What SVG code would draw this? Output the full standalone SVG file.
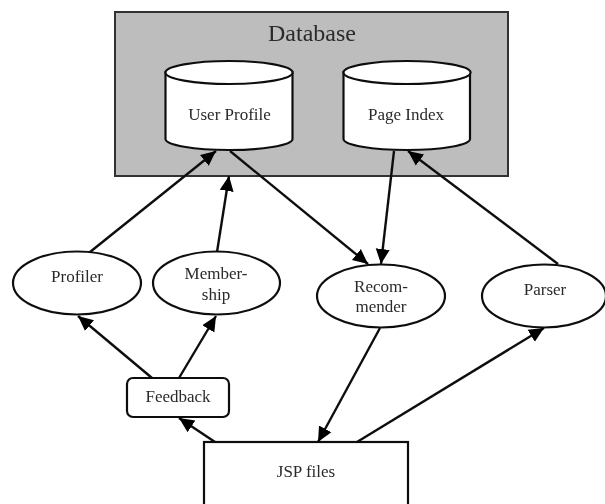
<svg xmlns="http://www.w3.org/2000/svg" width="605" height="504" viewBox="0 0 605 504">
<style>
.s{fill:#fff;stroke:#111;stroke-width:2.200}
.t{font-family:"Liberation Serif",serif;font-size:17px;fill:#2a2a2a;text-anchor:middle}
.c{fill:none;stroke:#111;stroke-width:2.400;marker-end:url(#a)}
</style>
<defs>
<marker id="a" markerUnits="userSpaceOnUse" markerWidth="18" markerHeight="16" refX="15" refY="8" orient="auto"><path d="M0 1L15 8L0 15Z" fill="#000"/></marker>
<filter id="b" x="-2%" y="-2%" width="104%" height="104%"><feGaussianBlur stdDeviation="0.5"/></filter>
</defs>
<rect width="605" height="504" fill="#fff"/>
<g filter="url(#b)">
<g id="database"><rect x="115" y="12" width="393" height="164" fill="#bdbdbd" stroke="#333" stroke-width="2"/><text x="312" y="41" class="t" style="font-size:24px">Database</text></g>
<g id="user-profile"><path class="s" d="M165.500 72V139C165.500 145 194 150 229 150S292.500 145 292.500 139V72Z"/><ellipse class="s" cx="229" cy="72.500" rx="63.500" ry="11.500"/><text x="229.500" y="120" class="t">User Profile</text></g>
<g id="page-index"><path class="s" d="M343.500 72V139C343.500 145 372 150 407 150S470 145 470 139V72Z"/><ellipse class="s" cx="407" cy="72.500" rx="63.500" ry="11.500"/><text x="406" y="120" class="t">Page Index</text></g>
<g id="profiler"><ellipse class="s" cx="77" cy="283" rx="64" ry="31.500"/><text x="77" y="282" class="t">Profiler</text></g>
<g id="membership"><ellipse class="s" cx="216.500" cy="283" rx="63.500" ry="31.500"/><text x="216" y="279" class="t">Member-</text><text x="216" y="300" class="t">ship</text></g>
<g id="recommender"><ellipse class="s" cx="381" cy="296" rx="64" ry="31.500"/><text x="381" y="292" class="t">Recom-</text><text x="381" y="312" class="t">mender</text></g>
<g id="parser"><ellipse class="s" cx="544" cy="296" rx="62" ry="31.500"/><text x="545" y="295" class="t">Parser</text></g>
<g id="feedback"><rect class="s" x="127" y="378" width="102" height="39" rx="6"/><text x="178" y="402" class="t">Feedback</text></g>
<g id="jsp-files"><rect class="s" x="204" y="442" width="204" height="70"/><text x="306" y="477" class="t">JSP files</text></g>
<g id="connectors">
<path class="c" d="M90 252L216 151"/>
<path class="c" d="M217 252L229 176"/>
<path class="c" d="M230 151L368 264"/>
<path class="c" d="M394 151L381 264"/>
<path class="c" d="M558 264L408 151"/>
<path class="c" d="M152 378L78 316"/>
<path class="c" d="M179 378L216 316"/>
<path class="c" d="M215 442L179 418"/>
<path class="c" d="M380 328L318 442"/>
<path class="c" d="M357 442L544 328"/>
</g>
</g>
</svg>
